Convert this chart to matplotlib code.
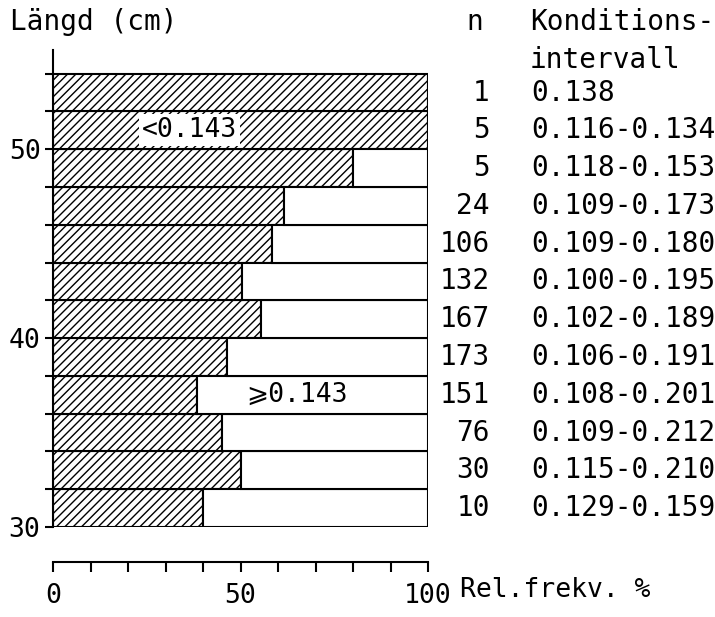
import matplotlib
matplotlib.use("Agg")
import matplotlib.pyplot as plt
from matplotlib.ticker import MultipleLocator

# length classes (lower edge, cm), 2 cm wide
length_lo = [30, 32, 34, 36, 38, 40, 42, 44, 46, 48, 50, 52]
# relative frequency (%) of condition < 0.143
pct_low = [40, 50, 45, 38.5, 46.5, 55.5, 50.5, 58.5, 61.5, 80, 100, 100]
n_fish = ["10", "30", "76", "151", "173", "167", "132", "106", "24", "5", "5", "1"]
intervals = ["0.129-0.159", "0.115-0.210", "0.109-0.212", "0.108-0.201",
             "0.106-0.191", "0.102-0.189", "0.100-0.195", "0.109-0.180",
             "0.109-0.173", "0.118-0.153", "0.116-0.134", "0.138"]

plt.rcParams['font.family'] = ['DejaVu Sans Mono', 'DejaVu Sans']
plt.rcParams['hatch.linewidth'] = 1.0
fs = 19
fs_big = 20

fig = plt.figure(figsize=(7.15, 6.17), dpi=100)
ax = fig.add_axes([53 / 715, 90 / 617, 375 / 715, 477 / 617])

pct_high = [100 - p for p in pct_low]
ax.barh(length_lo, pct_low, height=2, align='edge', color='white',
        edgecolor='black', hatch='////', linewidth=1.5)
ax.barh(length_lo, pct_high, left=pct_low, height=2, align='edge',
        color='white', edgecolor='black', linewidth=1.5)

ax.set_xlim(0, 100)
ax.set_ylim(30, 55.25)

for s in ['top', 'right']:
    ax.spines[s].set_visible(False)
ax.spines['left'].set_linewidth(1.5)
ax.spines['bottom'].set_linewidth(1.5)
ax.spines['bottom'].set_position(('outward', 25))

ax.xaxis.set_major_locator(MultipleLocator(50))
ax.xaxis.set_minor_locator(MultipleLocator(10))
ax.yaxis.set_major_locator(MultipleLocator(10))
ax.yaxis.set_minor_locator(MultipleLocator(2))
ax.tick_params(axis='both', which='both', direction='out', width=1.5, labelsize=fs)
ax.tick_params(axis='x', which='both', length=7, pad=8)
ax.tick_params(axis='y', which='both', length=6, pad=3)

ax.text(36.5, 51, "<0.143", fontsize=fs, ha='center', va='center', zorder=5,
        bbox=dict(facecolor='white', edgecolor='none', pad=2))
ax.text(65, 37, "⩾0.143", fontsize=fs, ha='center', va='center')

for y, n, iv in zip(length_lo, n_fish, intervals):
    ax.text(116.5, y + 1, n, fontsize=fs_big, ha='right', va='center', clip_on=False)
    ax.text(127.5, y + 1, iv, fontsize=fs_big, ha='left', va='center', clip_on=False)

fig.text(10 / 715, 1 - 22 / 617, "Längd (cm)", fontsize=fs_big, ha='left', va='center')
fig.text(475 / 715, 1 - 22 / 617, "n", fontsize=fs_big, ha='center', va='center')
fig.text(530 / 715, 1 - 22 / 617, "Konditions-", fontsize=fs_big, ha='left', va='center')
fig.text(530 / 715, 1 - 60 / 617, "intervall", fontsize=fs_big, ha='left', va='center')
fig.text(460 / 715, 1 - 590 / 617, "Rel.frekv. %", fontsize=19, ha='left', va='center')

fig.savefig("out.png", dpi=100)
